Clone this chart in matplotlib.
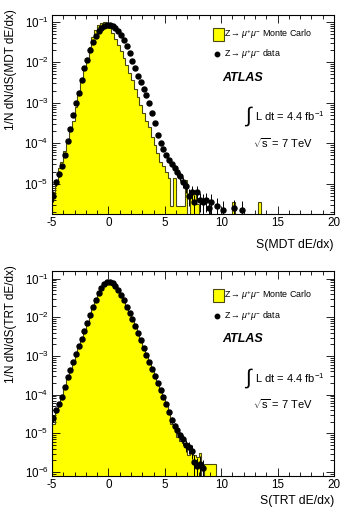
import numpy as np
import matplotlib
matplotlib.use("Agg")
import matplotlib.pyplot as plt
from matplotlib.ticker import MultipleLocator, LogLocator, NullFormatter
from matplotlib.patches import Rectangle
from matplotlib.lines import Line2D

plt.rcParams['font.family'] = ['Liberation Sans', 'DejaVu Sans']
plt.rcParams['mathtext.fontset'] = 'custom'
plt.rcParams['mathtext.rm'] = 'Liberation Sans'
plt.rcParams['mathtext.it'] = 'Liberation Sans:italic'
plt.rcParams['mathtext.bf'] = 'Liberation Sans:bold'

# ---------------- data ----------------
bin_start = -5.0
bin_width = 0.25

# top panel (MDT), log10 of 1/N dN/dS per bin, None = empty bin
mc_top_log10 = [
    -5.2, -4.9, -4.6, -4.45, -4.2, -3.95, -3.7, -3.45, -3.1, -2.8,
    -2.5, -2.2, -1.9, -1.62, -1.38, -1.2, -1.08, -1.03, -1.02, -1.05,
    -1.15, -1.28, -1.42, -1.57, -1.72, -1.9, -2.08, -2.27, -2.45, -2.65,
    -2.85, -3.05, -3.25, -3.45, -3.6, -3.85, -4.05, -4.25, -4.45, -4.55,
    -4.7, -4.85, -5.55, -4.85, -5.55, -5.55, -5.55, -4.9, None, -5.2,
    -5.2, -5.5, None, None, None, None, None, None, None, None,
    None, None, None, None, -5.45, None, None, None, None, None,
    None, None, None, -5.45]
data_top_log10 = [
    -5.3, -4.95, -4.75, -4.55, -4.3, -3.95, -3.65, -3.3, -3.0, -2.75,
    -2.45, -2.15, -1.95, -1.7, -1.5, -1.35, -1.22, -1.15, -1.1, -1.08,
    -1.09, -1.11, -1.15, -1.22, -1.32, -1.45, -1.6, -1.78, -1.97, -2.15,
    -2.35, -2.5, -2.65, -2.82, -3.0, -3.25, -3.5, -3.8, -4.0, -4.15,
    -4.28, -4.42, -4.52, -4.62, -4.7, -4.8, -4.95, -5.05, -5.3, -5.2,
    -5.45, -5.2, -5.4, -5.45, -5.4, -5.6, -5.45, None, -5.55, None,
    -5.65, None, None, None, -5.6, None, None, -5.65, None, None,
    None, None, None, None]
data_top_err = [  # relative statistical error of each data point
    0.3, 0.2, 0.15, 0.1, 0.08, 0, 0, 0, 0, 0,
    0, 0, 0, 0, 0, 0, 0, 0, 0, 0,
    0, 0, 0, 0, 0, 0, 0, 0, 0, 0,
    0, 0, 0, 0, 0, 0, 0, 0, 0, 0,
    0.1, 0.12, 0.15, 0.2, 0.25, 0.25, 0.3, 0.35, 0.45, 0.4,
    0.5, 0.4, 0.5, 0.55, 0.5, 0.6, 0.55, 0, 0.6, 0,
    0.65, 0, 0, 0, 0.6, 0, 0, 0.65, 0, 0,
    0, 0, 0, 0]

# bottom panel (TRT)
mc_bot_log10 = [
    -4.75, -4.45, -4.3, -4.1, -3.85, -3.6, -3.4, -3.18, -2.97, -2.77,
    -2.57, -2.36, -2.15, -1.93, -1.73, -1.55, -1.38, -1.23, -1.12, -1.07,
    -1.08, -1.12, -1.2, -1.31, -1.44, -1.58, -1.74, -1.9, -2.07, -2.25,
    -2.43, -2.62, -2.82, -3.0, -3.18, -3.37, -3.56, -3.74, -3.92, -4.1,
    -4.3, -4.5, -4.75, -4.85, -5.1, -5.2, -5.25, -5.3, -5.55, -5.5,
    -5.55, -5.6, -5.5, None, -5.8, -5.8, -5.8, -5.8, None]
data_bot_log10 = [
    -4.6, -4.4, -4.25, -4.05, -3.8, -3.55, -3.35, -3.15, -2.95, -2.75,
    -2.55, -2.35, -2.15, -1.93, -1.73, -1.55, -1.38, -1.24, -1.13, -1.08,
    -1.08, -1.12, -1.2, -1.3, -1.43, -1.56, -1.72, -1.88, -2.05, -2.22,
    -2.4, -2.58, -2.78, -2.97, -3.15, -3.33, -3.52, -3.7, -3.88, -4.05,
    -4.25, -4.45, -4.65, -4.8, -4.92, -5.05, -5.15, -5.3, -5.35, -5.45,
    -5.75, -5.85, -5.8, -5.9, None, None, None, None, None]
data_bot_err = [
    0.2, 0.15, 0.1, 0.08, 0, 0, 0, 0, 0, 0,
    0, 0, 0, 0, 0, 0, 0, 0, 0, 0,
    0, 0, 0, 0, 0, 0, 0, 0, 0, 0,
    0, 0, 0, 0, 0, 0, 0, 0, 0, 0,
    0.1, 0.12, 0.15, 0.2, 0.22, 0.25, 0.3, 0.35, 0.35, 0.4,
    0.55, 0.6, 0.6, 0.65, 0, 0, 0, 0, 0]

x_ticks = [-5, 0, 5, 10, 15, 20]
legend_mc = r'Z$\rightarrow\mu^{+}\mu^{-}$ Monte Carlo'
legend_data = r'Z$\rightarrow\mu^{+}\mu^{-}$ data'

# ---------------- figure ----------------
W, H = 343, 512
fig = plt.figure(figsize=(W / 100, H / 100), dpi=100)


def fx(px):
    return px / W


def fy(py):
    return 1 - py / H


YELLOW = '#ffff00'
EDGE = '#4a4a10'
BASE = 1e-9


def draw_panel(rect, mc_log, data_log, data_err, ylim, xlabel, ylabel, ylab_top, xlab_y, txt):
    ax = fig.add_axes(rect)
    ax.set_yscale('log')
    n = len(mc_log)
    edges = bin_start + bin_width * np.arange(n + 1)
    mc = np.array([10.0 ** v if v is not None else BASE for v in mc_log])
    ax.stairs(mc, edges, fill=True, facecolor=YELLOW, edgecolor='none', baseline=BASE, zorder=1)
    ax.stairs(mc, edges, fill=False, color=EDGE, lw=0.8, baseline=BASE, zorder=2)

    centers = bin_start + bin_width * (np.arange(len(data_log)) + 0.5)
    xs, ys, es = [], [], []
    for c, v, e in zip(centers, data_log, data_err):
        if v is None:
            continue
        xs.append(c)
        ys.append(10.0 ** v)
        es.append(e * 10.0 ** v)
    xs, ys, es = np.array(xs), np.array(ys), np.array(es)
    ax.errorbar(xs, ys, yerr=es, fmt='o', color='black', ms=3.6, elinewidth=0.7,
                capsize=0, zorder=3)

    ax.set_xlim(-5, 20)
    ax.set_ylim(*ylim)
    ax.set_xticks(x_ticks)
    ax.set_xticklabels([str(t) for t in x_ticks])
    ax.xaxis.set_minor_locator(MultipleLocator(1))
    ax.yaxis.set_major_locator(LogLocator(base=10, numticks=20))
    ax.yaxis.set_minor_locator(LogLocator(base=10, subs=np.arange(2, 10), numticks=20))
    ax.yaxis.set_minor_formatter(NullFormatter())
    ax.tick_params(which='both', direction='in', top=True, right=True, labelsize=8.4, width=0.6)
    ax.tick_params(which='major', length=6, pad=2.5)
    ax.tick_params(which='minor', length=3)
    for s in ax.spines.values():
        s.set_linewidth(0.8)

    fig.text(fx(334), fy(xlab_y), xlabel, ha='right', va='center', fontsize=8.8)
    fig.text(fx(11), fy(ylab_top), ylabel, ha='center', va='top', rotation=90, fontsize=8.5)

    # legend / annotations (pixel positions)
    ly_mc, ly_data, ly_atlas, ly_int, ly_s = txt
    fig.patches.append(Rectangle((fx(212.5), fy(ly_mc + 6.5)), fx(11), 13 / H,
                                 transform=fig.transFigure, facecolor=YELLOW,
                                 edgecolor=EDGE, lw=0.8))
    fig.text(fx(224.5), fy(ly_mc), legend_mc, ha='left', va='center', fontsize=6.4)
    fig.lines.append(Line2D([fx(216.5)], [fy(ly_data)], marker='o', ms=3.2, color='black',
                            transform=fig.transFigure))
    fig.text(fx(224.5), fy(ly_data), legend_data, ha='left', va='center', fontsize=6.4)
    fig.text(fx(222), fy(ly_atlas), 'ATLAS', ha='left', va='center', fontsize=9,
             fontweight='bold', fontstyle='italic')
    fig.text(fx(249), fy(ly_int), r'$\int$', ha='center', va='center', fontsize=15)
    fig.text(fx(255), fy(ly_int), r'L dt = 4.4 fb$^{-1}$', ha='left', va='center', fontsize=8)
    fig.text(fx(253), fy(ly_s), r'$\sqrt{\mathrm{s}}$ = 7 TeV', ha='left', va='center', fontsize=8)
    return ax


draw_panel([fx(52), fy(214), (334 - 52) / W, (214 - 15) / H],
           mc_top_log10, data_top_log10, data_top_err, (1.8e-6, 0.146),
           'S(MDT dE/dx)', '1/N dN/dS(MDT dE/dx)', 9, 245,
           (34.5, 54, 78, 116, 143))
draw_panel([fx(52), fy(476), (334 - 52) / W, (476 - 271) / H],
           mc_bot_log10, data_bot_log10, data_bot_err, (7.9e-7, 0.158),
           'S(TRT dE/dx)', '1/N dN/dS(TRT dE/dx)', 265, 501,
           (295.5, 316, 339, 378, 404))

fig.savefig('out.png', dpi=100)
